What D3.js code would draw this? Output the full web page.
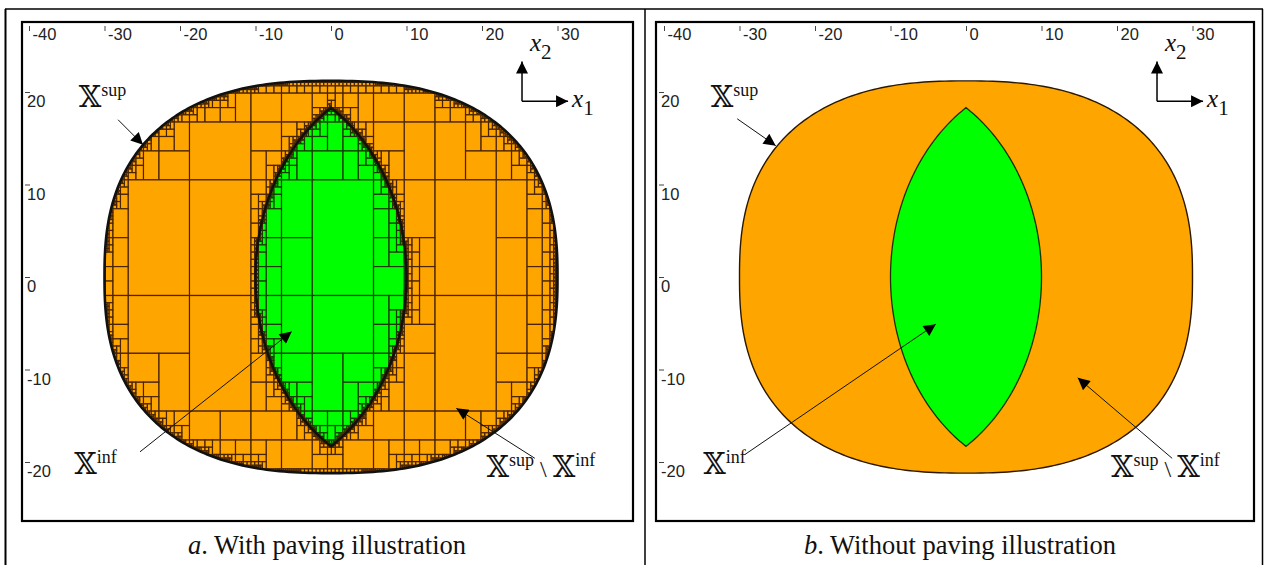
<!DOCTYPE html>
<html><head><meta charset="utf-8">
<script src="https://cdn.jsdelivr.net/npm/d3@7"></script>
<style>body{margin:0;background:#fff}svg{display:block}</style>
</head><body>
<svg id="fig" width="1267" height="565"></svg>
<script>
// ---------------- data ----------------
const xTickValues = [-40, -30, -20, -10, 0, 10, 20, 30];
const xTickLabels = ["-40", "-30", "-20", "-10", "0", "10", "20", "30"];
const yTickValues = [20, 10, 0, -10, -20];
const yTickLabels = ["20", "10", "0", "-10", "-20"];
// X^sup : super-ellipse |x1/a|^n + |x2/b|^n <= 1
const supSemiAxes = [30, 21.2];
const supExponent = [2.5];
// X^inf : intersection of two disks centred on the x1 axis
const infDiskCenters = [-11.75, 11.75];
const infDiskRadius = [21.75];
// paving (SIVIA) settings
const pavingInitialBox = [[-35, 30], [-27, 23]];
const pavingEpsilon = [0.36];
const captionLetters = ["a", "b"];
const captionTexts = [". With paving illustration", ". Without paving illustration"];

// ---------------- layout ----------------
const svg = d3.select("#fig");
const W = 1267, H = 565;
const pxX = 7.55, pxY = 9.25, yZero = 277;
const ORANGE = "#FFA500", GREEN = "#00FF00";
const serif = "'Liberation Serif','Times New Roman',serif";
const sans = "'Liberation Sans',Arial,sans-serif";
const BB = "'DejaVu Serif','DejaVu Sans',serif";

const panels = [
  { frame: [22, 22, 633, 521], x0: 331, capX: 327, paving: true,
    supLabel: [-33.4, 18.4], supArrow: [[-28.2, 17.0], [-24.9, 14.3]],
    infLabel: [-34.0, -21.3], infArrow: [[-25.3, -18.9], [-5.2, -5.9]],
    difLabel: [20.6, -21.6], difArrow: [[27.0, -19.6], [16.6, -14.2]] },
  { frame: [656, 22, 1254, 521], x0: 966, capX: 960, paving: false,
    supLabel: [-33.8, 18.4], supArrow: [[-30.3, 17.1], [-25.2, 14.2]],
    infLabel: [-34.8, -21.3], infArrow: [[-29.3, -19.2], [-4.0, -5.1]],
    difLabel: [19.2, -21.6], difArrow: [[27.3, -19.6], [14.8, -10.9]] }
];

// markers
const defs = svg.append("defs");
defs.append("marker").attr("id", "triBig").attr("viewBox", "0 0 10 10")
  .attr("refX", 10).attr("refY", 5).attr("markerWidth", 14).attr("markerHeight", 12)
  .attr("markerUnits", "userSpaceOnUse").attr("orient", "auto")
  .append("path").attr("d", "M0,0L10,5L0,10z").attr("fill", "#000");
defs.append("marker").attr("id", "triSm").attr("viewBox", "0 0 10 10")
  .attr("refX", 10).attr("refY", 5).attr("markerWidth", 13).attr("markerHeight", 12)
  .attr("markerUnits", "userSpaceOnUse").attr("orient", "auto")
  .append("path").attr("d", "M0,0L10,5L0,10z").attr("fill", "#000");

// outer table lines
svg.append("g").attr("stroke", "#000").attr("fill", "none").call(g => {
  g.append("line").attr("x1", 5).attr("x2", 1263).attr("y1", 9).attr("y2", 9).attr("stroke-width", 1.5);
  g.append("line").attr("x1", 5.5).attr("x2", 5.5).attr("y1", 9).attr("y2", H).attr("stroke-width", 2);
  g.append("line").attr("x1", 645).attr("x2", 645).attr("y1", 9).attr("y2", H).attr("stroke-width", 1.5);
  g.append("line").attr("x1", 1262.5).attr("x2", 1262.5).attr("y1", 9).attr("y2", H).attr("stroke-width", 1.5);
});

// -------- set tests --------
const [SA, SB] = supSemiAxes, SN = supExponent[0];
const R = infDiskRadius[0];
function fSup(ax, ay) { return Math.pow(ax / SA, SN) + Math.pow(ay / SB, SN); }
function absRange(lo, hi) {
  const mn = (lo <= 0 && hi >= 0) ? 0 : Math.min(Math.abs(lo), Math.abs(hi));
  return [mn, Math.max(Math.abs(lo), Math.abs(hi))];
}
function testSup(b) {
  const [mx, Mx] = absRange(b[0][0], b[0][1]);
  const [my, My] = absRange(b[1][0], b[1][1]);
  if (fSup(Mx, My) <= 1) return 1;
  if (fSup(mx, my) > 1) return -1;
  return 0;
}
function testInf(b) {
  let allIn = true;
  for (const c of infDiskCenters) {
    const cx = Math.max(b[0][0], Math.min(c, b[0][1])) - c;
    const cy = Math.max(b[1][0], Math.min(0, b[1][1]));
    if (cx * cx + cy * cy > R * R) return -1;
    const fx = Math.max((b[0][0] - c) ** 2, (b[0][1] - c) ** 2);
    const fy = Math.max(b[1][0] ** 2, b[1][1] ** 2);
    if (fx + fy > R * R) allIn = false;
  }
  return allIn ? 1 : 0;
}
function sivia() {
  const res = [];
  const stack = [pavingInitialBox];
  while (stack.length) {
    const b = stack.pop();
    const s = testSup(b);
    if (s < 0) continue;
    const t = testInf(b);
    if (t > 0) { res.push({ b, cls: "inf" }); continue; }
    if (t < 0 && s > 0) { res.push({ b, cls: "sup" }); continue; }
    const wx = b[0][1] - b[0][0], wy = b[1][1] - b[1][0];
    if (Math.max(wx, wy) < pavingEpsilon[0]) { res.push({ b, cls: t < 0 ? "bndSup" : "bndInf" }); continue; }
    if (wx >= wy) {
      const m = (b[0][0] + b[0][1]) / 2;
      stack.push([[b[0][0], m], b[1]], [[m, b[0][1]], b[1]]);
    } else {
      const m = (b[1][0] + b[1][1]) / 2;
      stack.push([b[0], [b[1][0], m]], [b[0], [m, b[1][1]]]);
    }
  }
  return res;
}
const paving = sivia();

// outline point lists (data coords)
const supOutline = d3.range(0, 360, 1).map(a => {
  const t = a * Math.PI / 180, c = Math.cos(t), s = Math.sin(t);
  return [SA * Math.sign(c) * Math.pow(Math.abs(c), 2 / SN), SB * Math.sign(s) * Math.pow(Math.abs(s), 2 / SN)];
});
const halfH = Math.sqrt(R * R - infDiskCenters[1] ** 2);
const phi = Math.asin(halfH / R);
const infOutline = [];
d3.range(-phi, phi, phi / 60).forEach(t => infOutline.push([infDiskCenters[0] + R * Math.cos(t), R * Math.sin(t)]));
d3.range(Math.PI - phi, Math.PI + phi, phi / 60).forEach(t => infOutline.push([infDiskCenters[1] + R * Math.cos(t), R * Math.sin(t)]));

panels.forEach((p, pi) => {
  const [fx0, fy0, fx1, fy1] = p.frame;
  const x = d3.scaleLinear().domain([-40, 30]).range([p.x0 - 40 * pxX, p.x0 + 30 * pxX]);
  const y = d3.scaleLinear().domain([-20, 20]).range([yZero + 20 * pxY, yZero - 20 * pxY]);
  const g = svg.append("g");

  // frame
  g.append("rect").attr("x", fx0).attr("y", fy0).attr("width", fx1 - fx0).attr("height", fy1 - fy0)
    .attr("fill", "#fff").attr("stroke", "#000").attr("stroke-width", 2.2);

  // sets
  const line = d3.line().x(d => x(d[0])).y(d => y(d[1])).curve(d3.curveLinearClosed);
  if (p.paving) {
    defs.append("clipPath").attr("id", "clipSup" + pi).append("path").attr("d", line(supOutline));
    const order = { sup: 0, inf: 1, bndSup: 2, bndInf: 3 };
    const boxes = paving.slice().sort((a, b) => order[a.cls] - order[b.cls]);
    g.append("g").attr("clip-path", `url(#clipSup${pi})`)
      .selectAll("rect").data(boxes).join("rect")
      .attr("x", d => x(d.b[0][0])).attr("y", d => y(d.b[1][1]))
      .attr("width", d => x(d.b[0][1]) - x(d.b[0][0]))
      .attr("height", d => y(d.b[1][0]) - y(d.b[1][1]))
      .attr("fill", d => d.cls === "inf" ? GREEN : d.cls === "bndInf" ? "#3a5a00" : ORANGE)
      .attr("stroke", d => d.cls === "inf" ? "#183a00" : "#4a2400")
      .attr("stroke-width", d => d.cls.startsWith("bnd") ? 0.9 : 1.2);
    g.append("path").attr("d", line(supOutline)).attr("fill", "none").attr("stroke", "#111").attr("stroke-width", 2.6);
    g.append("path").attr("d", line(infOutline)).attr("fill", "none").attr("stroke", "#111").attr("stroke-width", 2.4);
  } else {
    g.append("path").attr("d", line(supOutline)).attr("fill", ORANGE).attr("stroke", "#2a1800").attr("stroke-width", 1.4);
    g.append("path").attr("d", line(infOutline)).attr("fill", GREEN).attr("stroke", "#1a3000").attr("stroke-width", 1.3);
  }

  // top axis
  const ax = g.append("g").attr("transform", `translate(0,${fy0 + 4})`)
    .call(d3.axisTop(x).tickValues(xTickValues).tickFormat((d, i) => xTickLabels[i]).tickSize(0));
  ax.select(".domain").remove();
  ax.attr("font-family", sans).attr("font-size", 16.5);
  ax.selectAll(".tick line").attr("y1", 0).attr("y2", 5).attr("stroke", "#444").attr("stroke-width", 1);
  ax.selectAll(".tick text").attr("x", 3).attr("y", 13.5).attr("dy", null).attr("text-anchor", "start").attr("fill", "#222");

  // left axis
  const ay = g.append("g").attr("transform", `translate(${fx0 + 4},0)`)
    .call(d3.axisLeft(y).tickValues(yTickValues).tickFormat((d, i) => yTickLabels[i]).tickSize(0));
  ay.select(".domain").remove();
  ay.attr("font-family", sans).attr("font-size", 16.5);
  ay.selectAll(".tick line").attr("x1", -1).attr("x2", 4).attr("stroke", "#444").attr("stroke-width", 1);
  ay.selectAll(".tick text").attr("x", 1).attr("y", 0).attr("dy", "0.9em").attr("text-anchor", "start").attr("fill", "#222");

  // annotations
  function setLabel(pos, parts) {
    const t = g.append("text").attr("x", x(pos[0])).attr("y", y(pos[1]))
      .attr("font-family", serif).attr("font-size", 25).attr("fill", "#111");
    parts.forEach(([txt, kind]) => {
      if (kind === "bb") t.append("tspan").attr("font-family", BB).attr("font-size", 29).attr("font-weight", 300).attr("dy", 0).text(txt);
      else if (kind === "sup") t.append("tspan").attr("font-size", 18).attr("dy", -11).text(txt);
      else t.append("tspan").attr("font-size", 24).attr("dy", 11).text(txt);
    });
  }
  setLabel(p.supLabel, [["\u{1D54F}", "bb"], ["sup", "sup"]]);
  setLabel(p.infLabel, [["\u{1D54F}", "bb"], ["inf", "sup"]]);
  setLabel(p.difLabel, [["\u{1D54F}", "bb"], ["sup", "sup"], [" \\ ", "back"], ["\u{1D54F}", "bb"], ["inf", "sup"]]);
  [p.supArrow, p.infArrow, p.difArrow].forEach(a => {
    g.append("line").attr("x1", x(a[0][0])).attr("y1", y(a[0][1]))
      .attr("x2", x(a[1][0])).attr("y2", y(a[1][1]))
      .attr("stroke", "#111").attr("stroke-width", 1).attr("marker-end", "url(#triBig)");
  });

  // axis indicator
  const cx = x(25.3), cy = y(19.0);
  g.append("line").attr("x1", cx).attr("y1", cy).attr("x2", cx).attr("y2", y(23.3))
    .attr("stroke", "#000").attr("stroke-width", 1.5).attr("marker-end", "url(#triSm)");
  g.append("line").attr("x1", cx).attr("y1", cy).attr("x2", x(31.4)).attr("y2", cy)
    .attr("stroke", "#000").attr("stroke-width", 1.5).attr("marker-end", "url(#triSm)");
  const t2 = g.append("text").attr("x", cx + 8).attr("y", y(23.3) - 10).attr("font-family", serif).attr("font-size", 25).attr("fill", "#111");
  t2.append("tspan").attr("font-style", "italic").text("x");
  t2.append("tspan").attr("font-size", 21).attr("dy", 8).text("2");
  const t1 = g.append("text").attr("x", x(31.4) + 4).attr("y", cy + 6).attr("font-family", serif).attr("font-size", 25).attr("fill", "#111");
  t1.append("tspan").attr("font-style", "italic").text("x");
  t1.append("tspan").attr("font-size", 21).attr("dy", 8).text("1");

  // caption
  const cap = svg.append("text").attr("x", p.capX).attr("y", 554).attr("text-anchor", "middle")
    .attr("font-family", serif).attr("font-size", 26.5).attr("fill", "#111");
  cap.append("tspan").attr("font-style", "italic").text(captionLetters[pi]);
  cap.append("tspan").text(captionTexts[pi]);
});
</script>
</body></html>
